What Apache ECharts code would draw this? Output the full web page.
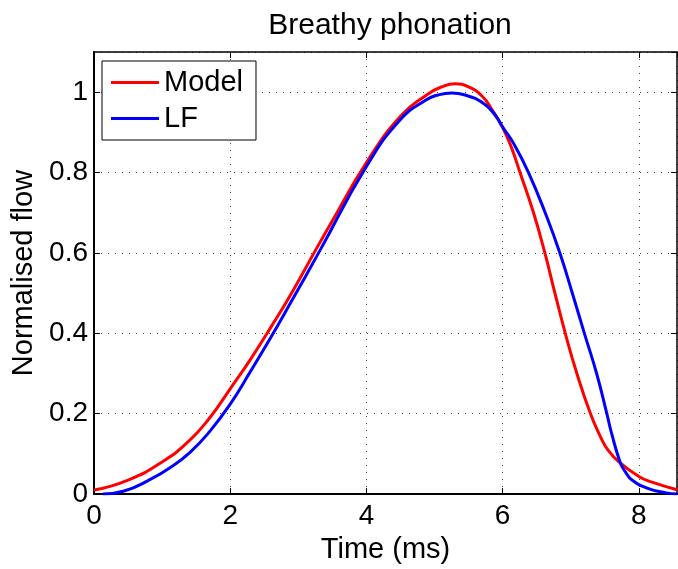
<!DOCTYPE html>
<html>
<head>
<meta charset="utf-8" />
<title>Breathy phonation</title>
<script src="https://cdn.jsdelivr.net/npm/echarts@6/dist/echarts.min.js"></script>
<style>
  html, body { margin: 0; padding: 0; background: #fff; }
  #chart { width: 678px; height: 569px; }
</style>
</head>
<body>
<div id="chart"></div>
<script>
// 时间 (ms) 与归一化流量，读自原图
const modelTime = [0, 0.5, 1.0, 1.4, 1.7, 2.0, 2.3, 2.6, 2.9, 3.27, 3.5, 4.0, 4.5, 4.9, 5.1, 5.3, 5.5, 5.7, 5.85, 6.0, 6.13, 6.255, 6.45, 6.62, 6.76, 6.92, 7.09, 7.29, 7.43, 7.55, 7.73, 8.0, 8.17, 8.56];
const modelFlow = [0.01, 0.035, 0.08, 0.133, 0.19, 0.262, 0.336, 0.416, 0.5, 0.612, 0.68, 0.825, 0.94, 0.995, 1.013, 1.021, 1.013, 0.99, 0.955, 0.912, 0.862, 0.8, 0.702, 0.6, 0.505, 0.4, 0.3, 0.2, 0.145, 0.109, 0.077, 0.044, 0.031, 0.011];

const lfTime = [0.13, 0.43, 0.82, 1.12, 1.41, 1.7, 2.0, 2.29, 2.58, 2.88, 3.32, 4.0, 4.5, 4.88, 5.05, 5.25, 5.45, 5.72, 5.88, 6.01, 6.18, 6.38, 6.62, 6.84, 7.03, 7.2, 7.38, 7.53, 7.6, 7.73, 7.8, 7.9, 8.12, 8.4, 8.56];
const lfFlow = [0, 0.007, 0.036, 0.066, 0.104, 0.156, 0.224, 0.303, 0.385, 0.474, 0.607, 0.815, 0.932, 0.981, 0.993, 0.998, 0.993, 0.972, 0.945, 0.911, 0.867, 0.8, 0.702, 0.6, 0.496, 0.4, 0.3, 0.2, 0.151, 0.077, 0.056, 0.035, 0.015, 0.003, 0];

const xTicks = [0, 2, 4, 6, 8];
const yTicks = [0, 0.2, 0.4, 0.6, 0.8, 1];

const font = "Liberation Sans, Arial, Helvetica, sans-serif";
const xMax = 8.56;
const yMax = 1.1;

const pairs = (xs, ys) => xs.map((x, i) => [x, ys[i]]);

// 坐标轴公共样式（MATLAB 风格的框线 + 向内刻度 + 点状网格）
const axisCommon = {
  type: "value",
  axisLine: { show: true, onZero: false, lineStyle: { color: "#000", width: 2 } },
  axisTick: { show: true, inside: true, length: 6, lineStyle: { color: "#000", width: 1 } },
  splitLine: { show: false },
};

let option = {
  animation: false,
  title: {
    text: "Breathy phonation",
    left: 385,
    top: 6,
    textAlign: "center",
    textStyle: { fontFamily: font, fontSize: 30, fontWeight: "normal", color: "#000" },
  },
  legend: {
    orient: "vertical",
    left: 102,
    top: 61,
    padding: [7, 13, 7, 9],
    itemGap: 7,
    itemWidth: 48,
    itemHeight: 3,
    icon: "rect",
    backgroundColor: "#fff",
    borderColor: "#000",
    borderWidth: 1,
    borderRadius: 0,
    data: ["Model", "LF"],
    textStyle: { fontFamily: font, fontSize: 29, color: "#000" },
  },
  grid: { left: 94, right: 1, top: 52, bottom: 71, containLabel: false },
  xAxis: [
    {
      ...axisCommon,
      min: 0,
      max: xMax,
      interval: 2,
      name: "Time (ms)",
      nameLocation: "middle",
      nameGap: 36,
      nameTextStyle: { fontFamily: font, fontSize: 29, color: "#000" },
      axisLabel: {
        margin: 8,
        showMaxLabel: false,
        fontFamily: font,
        fontSize: 28,
        color: "#000",
        formatter: (v) => (xTicks.includes(v) ? String(v) : ""),
      },
      splitLine: { show: true, lineStyle: { color: "#444", width: 1, type: [1, 6] } },
    },
    {
      ...axisCommon,
      position: "top",
      min: 0,
      max: xMax,
      interval: 2,
      axisLine: { show: true, onZero: false, lineStyle: { color: "#000", width: 1.5 } },
      axisLabel: { show: false },
    },
  ],
  yAxis: [
    {
      ...axisCommon,
      min: 0,
      max: yMax,
      interval: 0.2,
      name: "Normalised flow",
      nameLocation: "middle",
      nameGap: 54,
      nameTextStyle: { fontFamily: font, fontSize: 29, color: "#000" },
      axisLabel: {
        margin: 6,
        showMaxLabel: false,
        fontFamily: font,
        fontSize: 28,
        color: "#000",
        formatter: (v) => {
          const t = yTicks.find((k) => Math.abs(k - v) < 1e-9);
          return t === undefined ? "" : String(t);
        },
      },
      splitLine: { show: true, lineStyle: { color: "#444", width: 1, type: [1, 6] } },
    },
    {
      ...axisCommon,
      position: "right",
      min: 0,
      max: yMax,
      interval: 0.2,
      axisLine: { show: true, onZero: false, lineStyle: { color: "#000", width: 1.5 } },
      axisLabel: { show: false },
    },
  ],
  series: [
    {
      name: "Model",
      type: "line",
      data: pairs(modelTime, modelFlow),
      showSymbol: false,
      smooth: 0.5,
      lineStyle: { color: "#ff0000", width: 3 },
      itemStyle: { color: "#ff0000" },
      z: 3,
    },
    {
      name: "LF",
      type: "line",
      data: pairs(lfTime, lfFlow),
      showSymbol: false,
      smooth: 0.5,
      lineStyle: { color: "#0000ff", width: 3 },
      itemStyle: { color: "#0000ff" },
      z: 4,
    },
  ],
};

const myChart = echarts.init(document.getElementById("chart"));
myChart.setOption(option);
</script>
</body>
</html>
